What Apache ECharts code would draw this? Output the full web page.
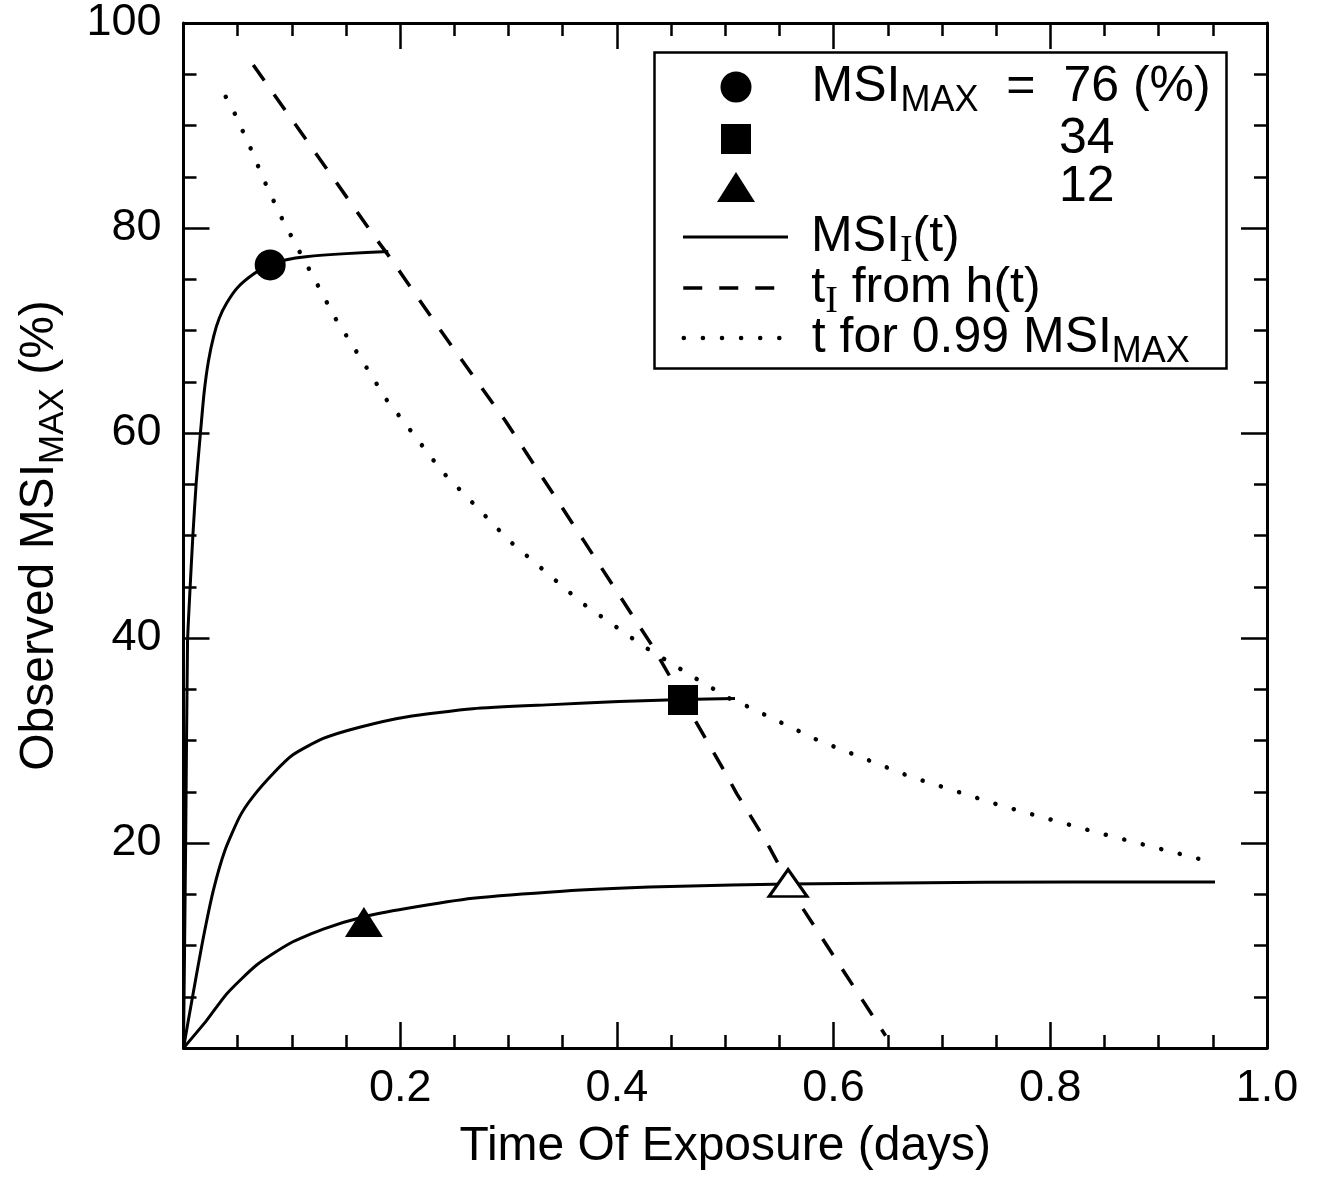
<!DOCTYPE html>
<html>
<head>
<meta charset="utf-8">
<script src="https://cdn.jsdelivr.net/npm/echarts@6/dist/echarts.min.js"></script>
<style>
html, body { margin: 0; padding: 0; background: #fff; }
#main { width: 1322px; height: 1177px; }
</style>
</head>
<body>
<div id="main"></div>
<script>
const log = console.log.bind(console)
const e = sel => document.querySelector(sel)

const font = "'Liberation Sans', Arial, Helvetica, sans-serif"

// MSI_I(t) curves, one per MSI_MAX level
const curve76 = [[0, 0], [0.002, 20], [0.0037, 39.5], [0.0055, 43.7], [0.0086, 49.9], [0.0117, 55.1],
    [0.0153, 59.6], [0.019, 63.9], [0.023, 67.0], [0.028, 69.5], [0.033, 71.2], [0.040, 72.7],
    [0.050, 74.2], [0.066, 75.6], [0.080, 76.4], [0.095, 76.9], [0.113, 77.2], [0.150, 77.5], [0.189, 77.7]]
const curve34 = [[0, 0], [0.009, 5.4], [0.018, 10.6], [0.0276, 15.4], [0.0383, 19.3], [0.052, 22.6],
    [0.064, 24.5], [0.083, 26.8], [0.101, 28.6], [0.129, 30.2], [0.1625, 31.3], [0.2055, 32.3],
    [0.267, 33.1], [0.340, 33.5], [0.402, 33.8], [0.461, 34.0], [0.509, 34.1]]
const curve12 = [[0, 0], [0.0214, 2.7], [0.040, 5.3], [0.0675, 8.1], [0.098, 10.2], [0.129, 11.6],
    [0.1665, 12.8], [0.2055, 13.6], [0.267, 14.6], [0.35, 15.3], [0.43, 15.7], [0.506, 15.9],
    [0.558, 16.0], [0.661, 16.1], [0.817, 16.2], [0.952, 16.2]]

// t_I from h(t)
const tiLine = [[0.0644, 95.9], [0.12, 87.6], [0.176, 79.2], [0.19, 77.2], [0.24, 69.6], [0.297, 61.2],
    [0.37, 49.4], [0.431, 39.5], [0.4416, 37.6], [0.461, 34.0], [0.4998, 26.9], [0.5107, 24.8],
    [0.537, 20.3], [0.558, 16.2], [0.571, 13.7], [0.6, 9.0], [0.648, 1.2]]

// t for 0.99 MSI_MAX
const t99Line = [[0.039, 92.8], [0.0476, 91.1], [0.0614, 87.9], [0.075, 84.5], [0.090, 81.1],
    [0.106, 77.9], [0.123, 74.6], [0.1395, 71.3], [0.176, 65.2], [0.1855, 63.5], [0.207, 60.6],
    [0.239, 56.2], [0.264, 53.5], [0.3005, 49.5], [0.368, 43.4], [0.426, 39.1], [0.472, 36.1],
    [0.504, 34.1], [0.521, 33.3], [0.586, 30.0], [0.670, 26.5], [0.756, 23.6], [0.844, 21.0],
    [0.950, 18.1]]

// observed MSI_MAX points
const point76 = [[0.080, 76.4]]
const point34 = [[0.461, 33.95]]
const point12 = [[0.1665, 12.3]]
const pointOpen = [[0.558, 16.1]]

const legendText = {
    c76: '{g| }{t|MSI}{s|MAX}{eq|=}{t|76 (%)}',
    s34: '{g| }{p| }{t|34}',
    t12: '{g| }{p| }{t|12}',
    msi: '{g| }{t|MSI}{si|I}{t|(t)}',
    th: '{g| }{t|t}{si|I}{t| from h(t)}',
    t99: '{g| }{t|t for 0.99 MSI}{s|MAX}',
}

// legend rows: [name, icon centre x, top, icon w, icon h, gap before text]
const legendRows = [
    ['c76', 736, 55, 31, 31, 60],
    ['s34', 736, 114, 30, 30, 60],
    ['t12', 736, 162, 38, 30, 56],
    ['msi', 734, 204, 105, 30, 23],
    ['th', 734, 255, 105, 30, 23],
    ['t99', 734, 306, 105, 30, 23],
]

const legendLine = {
    msi: { width: 3, type: 'solid' },
    th: { width: 3.5, type: [19, 17] },
    t99: { width: 4.5, type: [0.1, 19], cap: 'round' },
}

const makeLegend = row => {
    let [name, cx, top, w, h, gap] = row
    let lineStyle = Object.assign({ color: '#000' }, legendLine[name] || {})
    let isLine = legendLine[name] !== undefined
    return {
        orient: 'vertical',
        left: cx - w / 2,
        top: top,
        padding: 0,
        itemWidth: w,
        itemHeight: h,
        selectedMode: false,
        symbolKeepAspect: true,
        data: [name],
        formatter: n => legendText[n],
        itemStyle: isLine ? { opacity: 0 } : { color: '#000' },
        lineStyle: lineStyle,
        textStyle: {
            color: '#000',
            fontFamily: font,
            rich: {
                g: { width: gap - 5 },
                p: { width: 248 },
                t: { fontSize: 50, lineHeight: 44, color: '#000', fontFamily: font },
                s: { fontSize: 36, lineHeight: 44, padding: [28, 0, 0, 0], color: '#000', fontFamily: font },
                si: { fontSize: 38, lineHeight: 44, padding: [28, 0, 0, 0], color: '#000', fontFamily: "'Liberation Serif', serif" },
                eq: { width: 85, align: 'center', fontSize: 50, lineHeight: 44, color: '#000', fontFamily: font },
            },
        },
    }
}

const axisCommon = {
    axisLine: { onZero: false, lineStyle: { color: '#000', width: 3 } },
    axisTick: { inside: true, length: 26, lineStyle: { color: '#000', width: 2.5 } },
    minorTick: { show: true, splitNumber: 4, length: 13, lineStyle: { color: '#000', width: 2.5 } },
    splitLine: { show: false },
}

const lineSeries = (name, data, style, smooth) => ({
    name: name,
    type: 'line',
    data: data,
    symbol: 'none',
    smooth: smooth || false,
    color: '#000',
    lineStyle: Object.assign({ color: '#000', width: 3 }, style),
    emphasis: { disabled: true },
    z: 2,
})

const pointSeries = (name, data, symbol, size, itemStyle) => ({
    name: name,
    type: 'scatter',
    data: data,
    symbol: symbol,
    symbolSize: size,
    symbolKeepAspect: true,
    itemStyle: Object.assign({ color: '#000', opacity: 1 }, itemStyle),
    emphasis: { disabled: true },
    z: 5,
})

const __main = () => {
    let chart = echarts.init(e('#main'), null, { renderer: 'canvas' })
    let option = {
        animation: false,
        backgroundColor: '#fff',
        textStyle: { fontFamily: font, color: '#000' },
        grid: { left: 180, right: 55, top: 23, bottom: 129 },
        legend: legendRows.map(makeLegend),
        graphic: [
            {
                type: 'rect',
                left: 652,
                top: 50,
                shape: { width: 572, height: 316 },
                style: { fill: 'none', stroke: '#000', lineWidth: 2.5 },
                z: 10,
            },
        ],
        xAxis: [
            Object.assign({
                type: 'value',
                position: 'bottom',
                min: 0,
                max: 1,
                interval: 0.2,
                name: 'Time Of Exposure (days)',
                nameLocation: 'middle',
                nameGap: 75,
                nameTextStyle: { fontSize: 48, color: '#000', fontFamily: font },
                axisLabel: {
                    fontSize: 45,
                    color: '#000',
                    margin: 18,
                    fontFamily: font,
                    formatter: v => v === 0 ? '' : v.toFixed(1),
                },
            }, axisCommon),
            Object.assign({
                type: 'value',
                position: 'top',
                min: 0,
                max: 1,
                interval: 0.2,
                axisLabel: { show: false },
            }, axisCommon),
        ],
        yAxis: [
            Object.assign({
                type: 'value',
                position: 'left',
                min: 0,
                max: 100,
                interval: 20,
                name: '{t|Observed MSI}{s|MAX}{t| (%)}',
                nameLocation: 'middle',
                nameRotate: 90,
                nameGap: 122,
                nameTextStyle: {
                    rich: {
                        t: { fontSize: 48, lineHeight: 44, color: '#000', fontFamily: font },
                        s: { fontSize: 35, lineHeight: 44, padding: [28, 0, 0, 0], color: '#000', fontFamily: font },
                    },
                },
                axisLabel: {
                    fontSize: 45,
                    color: '#000',
                    margin: 22,
                    fontFamily: font,
                    formatter: v => v === 0 ? '' : String(v),
                },
            }, axisCommon),
            Object.assign({
                type: 'value',
                position: 'right',
                min: 0,
                max: 100,
                interval: 20,
                axisLabel: { show: false },
            }, axisCommon),
        ],
        series: [
            lineSeries('msi', curve76, {}, 0.2),
            lineSeries('msi', curve34, {}, 0.2),
            lineSeries('msi', curve12, {}, 0.2),
            lineSeries('th', tiLine, legendLine.th),
            lineSeries('t99', t99Line, legendLine.t99),
            pointSeries('c76', point76, 'circle', 31),
            pointSeries('s34', point34, 'rect', 30),
            pointSeries('t12', point12, 'triangle', [38, 30]),
            pointSeries('open', pointOpen, 'triangle', [38, 27], { color: '#fff', borderColor: '#000', borderWidth: 3 }),
        ],
    }
    chart.setOption(option)
}

__main()
</script>
</body>
</html>
